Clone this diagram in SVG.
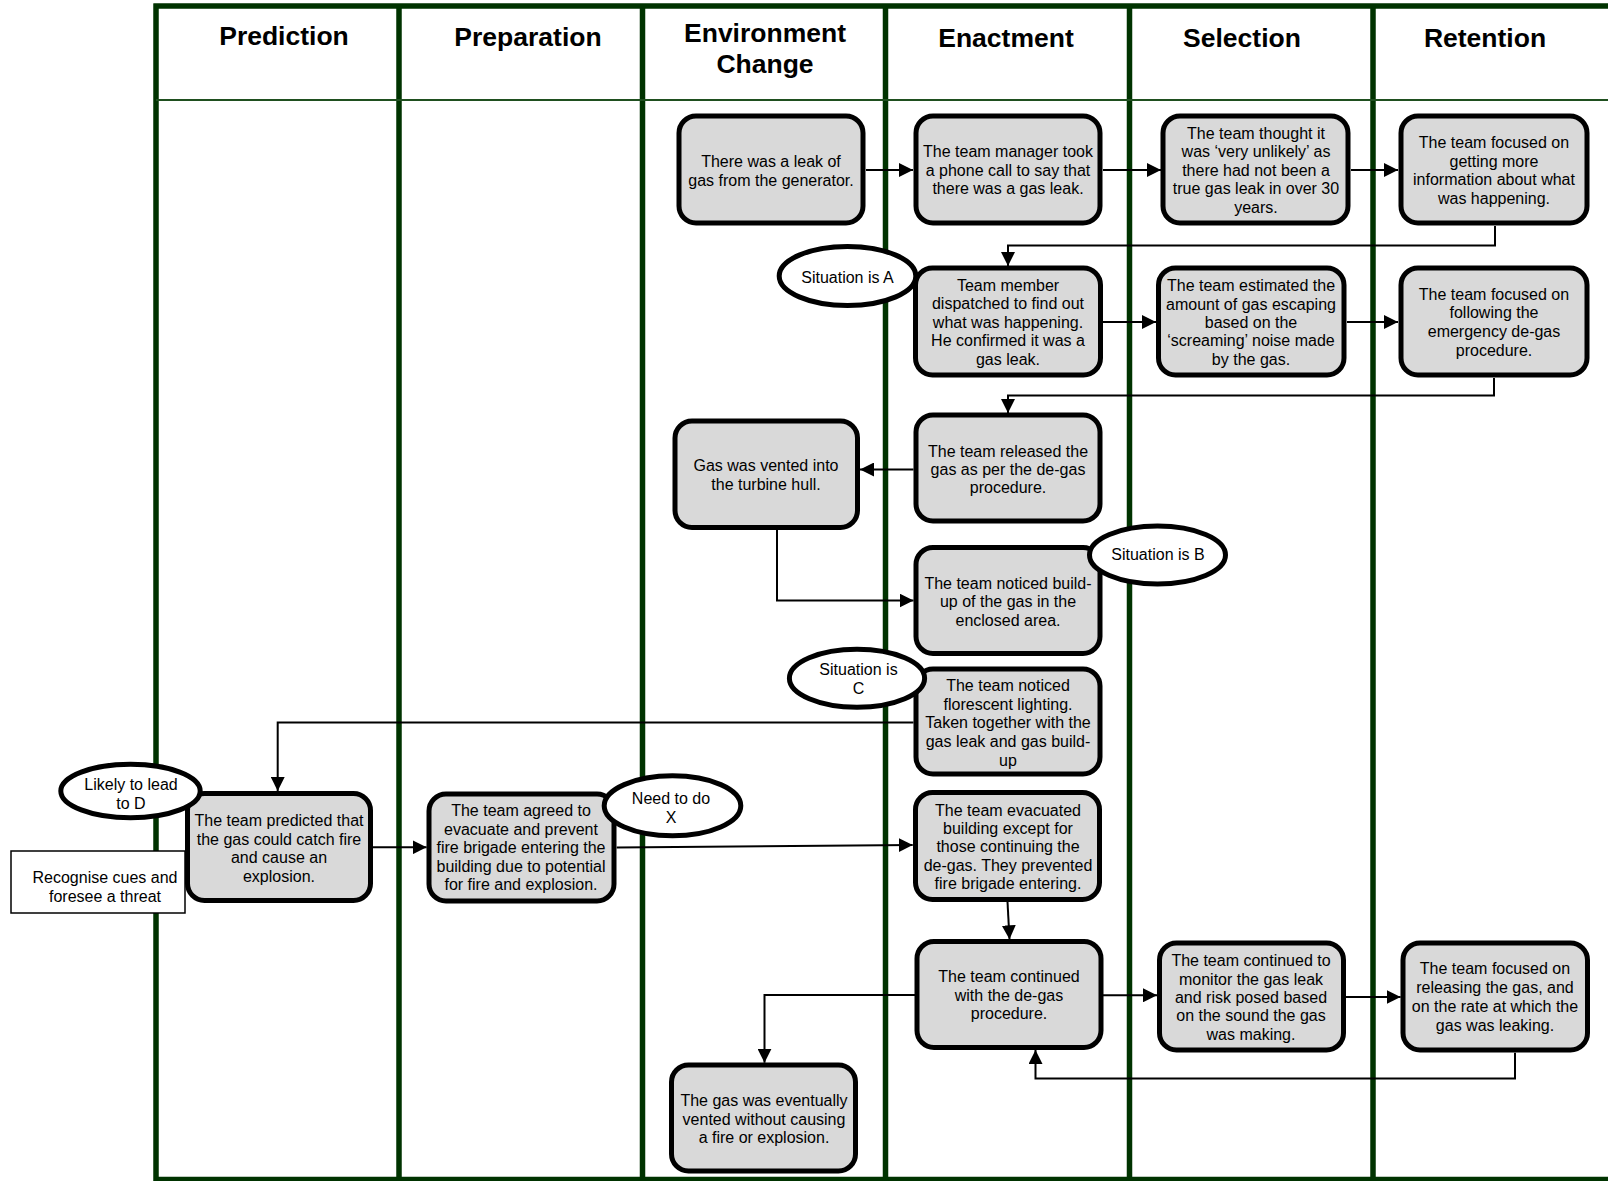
<svg xmlns="http://www.w3.org/2000/svg" width="1608" height="1181" viewBox="0 0 1608 1181">
  <style>
    .lane { fill: none; stroke: #003300; stroke-width: 5.5; }
    .hline { fill: none; stroke: #1f4f1f; stroke-width: 2; }
    .hdr { font-family: "Liberation Sans", Arial, sans-serif; font-weight: bold; font-size: 26.5px; text-anchor: middle; fill: #000; }
    .box rect { fill: #d9d9d9; stroke: #000; stroke-width: 5; }
    .oval ellipse { fill: #fff; stroke: #000; stroke-width: 5; }
    .note rect { fill: #fff; stroke: #000; stroke-width: 1.5; }
    text.t { font-family: "Liberation Sans", Arial, sans-serif; font-size: 16px; text-anchor: middle; fill: #000; }
    .conn path { fill: none; stroke: #000; stroke-width: 2; marker-end: url(#arr); }
  </style>
  <defs>
    <marker id="arr" viewBox="0 0 14 14" refX="14" refY="7" markerWidth="14" markerHeight="14" markerUnits="userSpaceOnUse" orient="auto">
      <path d="M0,0 L14,7 L0,14 z" fill="#000"/>
    </marker>
  </defs>

  <rect x="0" y="0" width="1608" height="1181" fill="#fff"/>

  <!-- swimlane frame -->
  <g id="lanes">
    <path class="lane" d="M153.5,6 H1608 M156,3.5 V1181 M153.5,1179.5 H1608"/>
    <path class="lane" d="M399,6 V1181 M642.5,6 V1181 M885.5,6 V1181 M1129.5,6 V1181 M1373,6 V1181"/>
    <path class="hline" d="M156,100 H1608"/>
    <text class="hdr" x="284" y="45">Prediction</text>
    <text class="hdr" x="528" y="46">Preparation</text>
    <text class="hdr" x="765" y="42">Environment</text>
    <text class="hdr" x="765" y="73">Change</text>
    <text class="hdr" x="1006" y="47">Enactment</text>
    <text class="hdr" x="1242" y="47">Selection</text>
    <text class="hdr" x="1485" y="47">Retention</text>
  </g>

  <!-- connectors -->
  <g id="connectors" class="conn">
    <path d="M866,170 H913"/>
    <path d="M1103,170 H1161"/>
    <path d="M1351,170 H1398"/>
    <path d="M1495,226 V245.5 H1008 V266"/>
    <path d="M1103,322 H1156"/>
    <path d="M1347,322 H1398"/>
    <path d="M1494,378 V395.5 H1008 V413"/>
    <path d="M913.5,469.5 H860"/>
    <path d="M777,530 V600.5 H913.5"/>
    <path d="M913.5,722.5 H277.7 V791"/>
    <path d="M372.7,847.3 H426.6"/>
    <path d="M616.7,847.5 L912.7,845"/>
    <path d="M1007.5,901.7 L1009.5,939.3"/>
    <path d="M1102.6,995.3 H1157"/>
    <path d="M1346,997 H1400.6"/>
    <path d="M1515,1052.7 V1078.5 H1035.5 V1050"/>
    <path d="M915,995 H764.5 V1062.7"/>
  </g>

  <!-- annotation label -->
  <g id="recognise" class="note">
    <rect x="11" y="851" width="174" height="62"/>
    <text class="t" x="105" y="883">Recognise cues and</text>
    <text class="t" x="105" y="901.6">foresee a threat</text>
  </g>

  <!-- activity boxes -->
  <g id="leak" class="box">
    <rect x="679" y="116" width="184" height="107" rx="17"/>
    <text class="t" x="771" y="167">There was a leak of</text>
    <text class="t" x="771" y="185.5">gas from the generator.</text>
  </g>
  <g id="phone-call" class="box">
    <rect x="916" y="116" width="184" height="107" rx="17"/>
    <text class="t" x="1008" y="157.3">The team manager took</text>
    <text class="t" x="1008" y="175.6">a phone call to say that</text>
    <text class="t" x="1008" y="194.3">there was a gas leak.</text>
  </g>
  <g id="unlikely" class="box">
    <rect x="1163" y="116" width="185" height="107" rx="17"/>
    <text class="t" x="1256" y="139">The team thought it</text>
    <text class="t" x="1256" y="157.3">was ‘very unlikely’ as</text>
    <text class="t" x="1256" y="175.6">there had not been a</text>
    <text class="t" x="1256" y="194">true gas leak in over 30</text>
    <text class="t" x="1256" y="213">years.</text>
  </g>
  <g id="more-info" class="box">
    <rect x="1401" y="116" width="186" height="107" rx="17"/>
    <text class="t" x="1494" y="148.3">The team focused on</text>
    <text class="t" x="1494" y="166.6">getting more</text>
    <text class="t" x="1494" y="185">information about what</text>
    <text class="t" x="1494" y="204">was happening.</text>
  </g>
  <g id="dispatched" class="box">
    <rect x="915.5" y="268" width="185" height="107" rx="17"/>
    <text class="t" x="1008" y="291.3">Team member</text>
    <text class="t" x="1008" y="309.3">dispatched to find out</text>
    <text class="t" x="1008" y="327.6">what was happening.</text>
    <text class="t" x="1008" y="346">He confirmed it was a</text>
    <text class="t" x="1008" y="365">gas leak.</text>
  </g>
  <g id="estimated" class="box">
    <rect x="1158.5" y="268" width="185.5" height="107" rx="17"/>
    <text class="t" x="1251" y="291.3">The team estimated the</text>
    <text class="t" x="1251" y="309.6">amount of gas escaping</text>
    <text class="t" x="1251" y="327.6">based on the</text>
    <text class="t" x="1251" y="346">‘screaming’ noise made</text>
    <text class="t" x="1251" y="365">by the gas.</text>
  </g>
  <g id="emergency" class="box">
    <rect x="1401" y="268" width="186" height="107" rx="17"/>
    <text class="t" x="1494" y="300">The team focused on</text>
    <text class="t" x="1494" y="318.3">following the</text>
    <text class="t" x="1494" y="337.3">emergency de-gas</text>
    <text class="t" x="1494" y="355.6">procedure.</text>
  </g>
  <g id="released" class="box">
    <rect x="916" y="415" width="184" height="106" rx="17"/>
    <text class="t" x="1008" y="456.6">The team released the</text>
    <text class="t" x="1008" y="475">gas as per the de-gas</text>
    <text class="t" x="1008" y="493.3">procedure.</text>
  </g>
  <g id="vented" class="box">
    <rect x="675" y="421" width="182.5" height="106.5" rx="17"/>
    <text class="t" x="766" y="471.3">Gas was vented into</text>
    <text class="t" x="766" y="489.6">the turbine hull.</text>
  </g>
  <g id="build-up" class="box">
    <rect x="916" y="547.5" width="184" height="106" rx="17"/>
    <text class="t" x="1008" y="589">The team noticed build-</text>
    <text class="t" x="1008" y="607">up of the gas in the</text>
    <text class="t" x="1008" y="625.6">enclosed area.</text>
  </g>
  <g id="lighting" class="box">
    <rect x="916" y="669" width="184" height="105" rx="17"/>
    <text class="t" x="1008" y="691.3">The team noticed</text>
    <text class="t" x="1008" y="710.3">florescent lighting.</text>
    <text class="t" x="1008" y="728.3">Taken together with the</text>
    <text class="t" x="1008" y="747.3">gas leak and gas build-</text>
    <text class="t" x="1008" y="765.6">up</text>
  </g>
  <g id="predicted" class="box">
    <rect x="187.5" y="793.5" width="183" height="107" rx="17"/>
    <text class="t" x="279" y="825.6">The team predicted that</text>
    <text class="t" x="279" y="844.6">the gas could catch fire</text>
    <text class="t" x="279" y="863">and cause an</text>
    <text class="t" x="279" y="881.6">explosion.</text>
  </g>
  <g id="agreed" class="box">
    <rect x="429" y="794" width="185" height="107" rx="17"/>
    <text class="t" x="521" y="816.3">The team agreed to</text>
    <text class="t" x="521" y="835">evacuate and prevent</text>
    <text class="t" x="521" y="853.3">fire brigade entering the</text>
    <text class="t" x="521" y="871.6">building due to potential</text>
    <text class="t" x="521" y="889.6">for fire and explosion.</text>
  </g>
  <g id="evacuated" class="box">
    <rect x="915.5" y="792.5" width="184" height="107" rx="17"/>
    <text class="t" x="1008" y="815.6">The team evacuated</text>
    <text class="t" x="1008" y="834">building except for</text>
    <text class="t" x="1008" y="852.3">those continuing the</text>
    <text class="t" x="1008" y="870.6">de-gas. They prevented</text>
    <text class="t" x="1008" y="889">fire brigade entering.</text>
  </g>
  <g id="continued" class="box">
    <rect x="917" y="941.5" width="184" height="106" rx="17"/>
    <text class="t" x="1009" y="982">The team continued</text>
    <text class="t" x="1009" y="1000.6">with the de-gas</text>
    <text class="t" x="1009" y="1019">procedure.</text>
  </g>
  <g id="monitor" class="box">
    <rect x="1159.5" y="943" width="184" height="107" rx="17"/>
    <text class="t" x="1251" y="966">The team continued to</text>
    <text class="t" x="1251" y="984.6">monitor the gas leak</text>
    <text class="t" x="1251" y="1002.6">and risk posed based</text>
    <text class="t" x="1251" y="1021">on the sound the gas</text>
    <text class="t" x="1251" y="1039.6">was making.</text>
  </g>
  <g id="releasing" class="box">
    <rect x="1403" y="943" width="184.5" height="107" rx="17"/>
    <text class="t" x="1495" y="974">The team focused on</text>
    <text class="t" x="1495" y="993">releasing the gas, and</text>
    <text class="t" x="1495" y="1011.6">on the rate at which the</text>
    <text class="t" x="1495" y="1031">gas was leaking.</text>
  </g>
  <g id="vented-safely" class="box">
    <rect x="671.5" y="1065" width="184" height="106" rx="17"/>
    <text class="t" x="764" y="1106.3">The gas was eventually</text>
    <text class="t" x="764" y="1124.6">vented without causing</text>
    <text class="t" x="764" y="1143">a fire or explosion.</text>
  </g>

  <!-- situation labels -->
  <g id="situation-a" class="oval">
    <ellipse cx="847.5" cy="276" rx="68.3" ry="29.5"/>
    <text class="t" x="847.5" y="282.6">Situation is A</text>
  </g>
  <g id="situation-b" class="oval">
    <ellipse cx="1157.5" cy="555" rx="68" ry="29"/>
    <text class="t" x="1158" y="560">Situation is B</text>
  </g>
  <g id="situation-c" class="oval">
    <ellipse cx="857" cy="678.3" rx="67.6" ry="29"/>
    <text class="t" x="858.5" y="675">Situation is</text>
    <text class="t" x="858.5" y="694.3">C</text>
  </g>
  <g id="likely-d" class="oval">
    <ellipse cx="130.5" cy="791" rx="69.7" ry="26.8"/>
    <text class="t" x="131" y="790">Likely to lead</text>
    <text class="t" x="131" y="809">to D</text>
  </g>
  <g id="need-x" class="oval">
    <ellipse cx="672.5" cy="805.8" rx="68.3" ry="30"/>
    <text class="t" x="671" y="804">Need to do</text>
    <text class="t" x="671" y="823">X</text>
  </g>
</svg>
